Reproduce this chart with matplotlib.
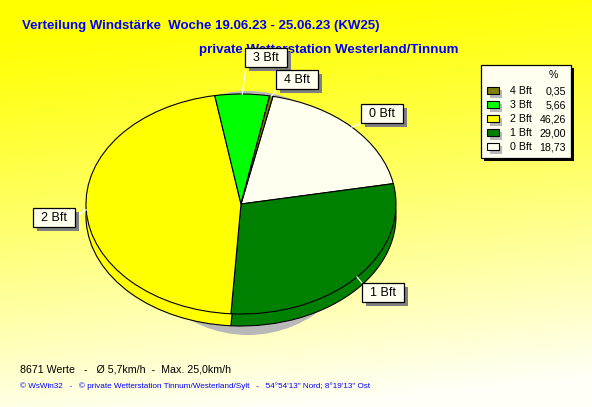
import numpy as np
import matplotlib
matplotlib.use('Agg')
import matplotlib.pyplot as plt
from matplotlib.patches import Ellipse, Rectangle

plt.rcParams['font.family'] = ['Liberation Sans', 'DejaVu Sans']

# data, clockwise as in the pie
categorias = ['0 Bft', '1 Bft', '2 Bft', '3 Bft', '4 Bft']
valores = [18.73, 29.00, 46.26, 5.66, 0.35]
valores_txt = ['18,73', '29,00', '46,26', '5,66', '0,35']
cores = ['#fffff0', '#008000', '#ffff00', '#00ff00', '#808000']

titulo = 'Verteilung Windstärke  Woche 19.06.23 - 25.06.23 (KW25)'
subtitulo = 'private Wetterstation Westerland/Tinnum'
rodape1 = '8671 Werte   -   Ø 5,7km/h  -  Max. 25,0km/h'
rodape2 = '© WsWin32   -   © private Wetterstation Tinnum/Westerland/Sylt   -   54°54\'13" Nord; 8°19\'13" Ost'

W, H = 592, 407
cx, cy, rx, ry = 241, 204, 155, 110
inicio = 11.9  # graus a partir do topo, sentido horario

fig = plt.figure(figsize=(W / 100, H / 100), dpi=100)

# fundo degrade
fundo = fig.add_axes([0, 0, 1, 1], zorder=0)
yy, xx = np.mgrid[0:1:200j, 0:1:200j]
t = np.clip(yy * 1.0 + (xx - 0.5) * 0.14, 0, 1) ** 1.15
img = np.dstack([np.ones_like(t), np.ones_like(t), t * 0.97])
fundo.imshow(img, extent=[0, 1, 0, 1], origin='upper', aspect='auto')
fundo.axis('off')

# pizza
ax = fig.add_axes([(cx - 1.25 * rx) / W, (H - cy - 1.25 * ry) / H, 2.5 * rx / W, 2.5 * ry / H], zorder=1)
props = dict(edgecolor='black', linewidth=0.8)
ax.add_patch(Ellipse((7 / rx, -9 / ry), 240 / rx, 244 / ry, color='#b8b8b8', lw=0, zorder=0))
ax.pie(valores, colors=cores, startangle=90 - inicio, counterclock=False,
       center=(0, -12 / ry), wedgeprops=props)
ax.pie(valores, colors=cores, startangle=90 - inicio, counterclock=False,
       wedgeprops=props)
ax.set_aspect('auto')
ax.set_xlim(-1.25, 1.25)
ax.set_ylim(-1.25, 1.25)

# textos e caixas em pixels
over = fig.add_axes([0, 0, 1, 1], zorder=2)
over.set_xlim(0, W)
over.set_ylim(H, 0)
over.axis('off')
over.patch.set_alpha(0)

over.text(22, 25.5, titulo, color='#0000ff', fontsize=9.55, fontweight='bold', va='center')
over.text(199, 49.5, subtitulo, color='#0000ff', fontsize=9.6, fontweight='bold', va='center')
over.text(20, 369, rodape1, color='black', fontsize=7.65, va='center')
over.text(20, 386, rodape2, color='#0000ff', fontsize=5.9, va='center')

# rotulos com linha ate a borda
caixas = {'0 Bft': (361, 104), '1 Bft': (362, 283), '2 Bft': (33, 208), '3 Bft': (245, 48), '4 Bft': (276, 70)}
saidas = {'0 Bft': (362, 123), '1 Bft': (362, 283), '2 Bft': (75, 217), '3 Bft': (246, 67), '4 Bft': (277, 89)}
acum = inicio
for nome, v in zip(categorias, valores):
    meio = np.radians(acum + v * 3.6 / 2)
    acum += v * 3.6
    px = cx + rx * np.sin(meio)
    py = cy - ry * np.cos(meio)
    sx, sy = saidas[nome]
    over.plot([px, sx], [py, sy], color='white', lw=0.9, zorder=3)
    bx, by = caixas[nome]
    over.add_patch(Rectangle((bx + 4, by + 4), 42, 19, color='#808080', lw=0, zorder=4))
    over.add_patch(Rectangle((bx, by), 42, 19, fc='#fffff0', ec='black', lw=0.9, zorder=5))
    over.text(bx + 21, by + 10, nome, fontsize=9, color='black', ha='center', va='center', zorder=6)

# legenda
over.add_patch(Rectangle((484, 68), 90, 93, color='black', lw=0, zorder=3))
over.add_patch(Rectangle((481, 65), 90, 93, fc='#fffff0', ec='black', lw=0.9, zorder=4))
over.text(553, 75, '%', fontsize=7.7, ha='center', va='center', zorder=5)
linha_y = 91
for nome, txt, c in zip(categorias[::-1], valores_txt[::-1], cores[::-1]):
    over.add_patch(Rectangle((490, linha_y - 1), 12, 8, color='#b8b8b8', lw=0, zorder=5))
    over.add_patch(Rectangle((487, linha_y - 4), 12, 7, fc=c, ec='black', lw=0.8, zorder=6))
    over.text(510, linha_y, nome, fontsize=7.7, va='center', zorder=6)
    over.text(566, linha_y, txt, fontsize=7.7, va='center', ha='right', zorder=6)
    linha_y += 14

fig.savefig('out.png', dpi=100)
